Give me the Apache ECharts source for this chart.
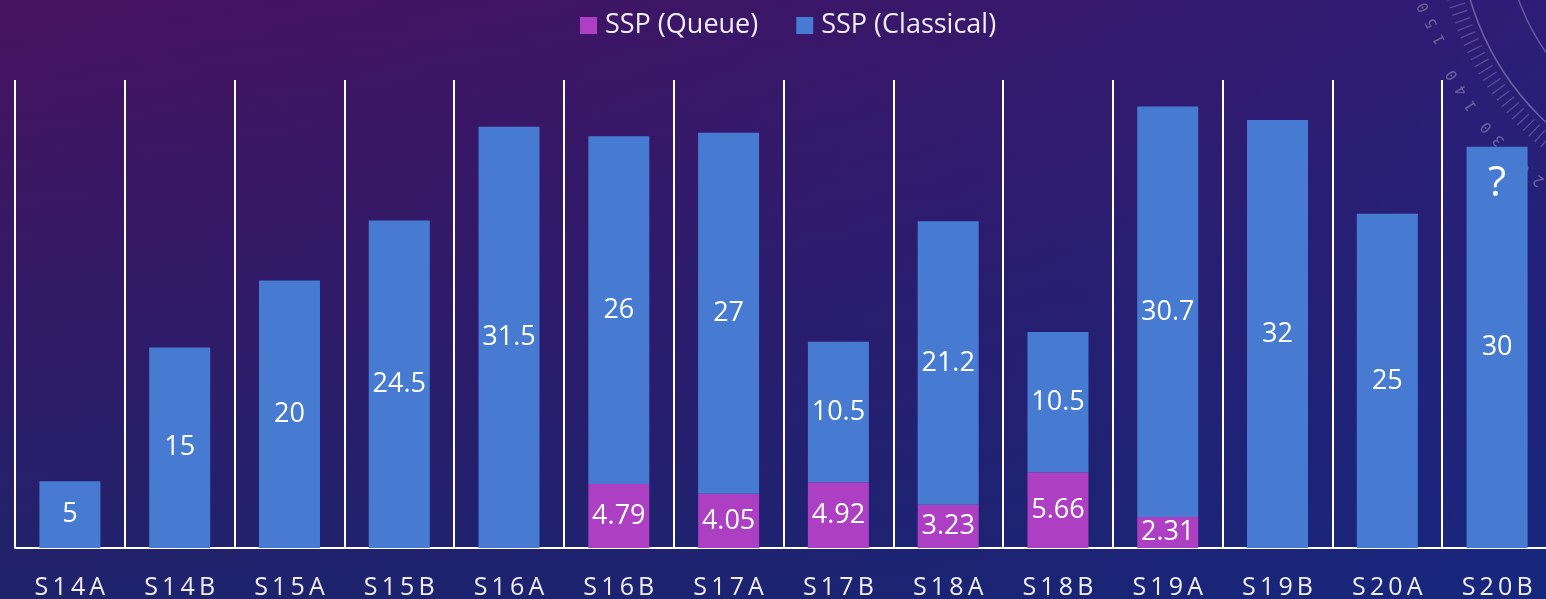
<!DOCTYPE html>
<html>
<head>
<meta charset="utf-8">
<script src="https://cdn.jsdelivr.net/npm/echarts@6/dist/echarts.min.js"></script>
<style>
html,body{margin:0;padding:0;background:#2a1a66;}
#chart{width:1546px;height:599px;}
</style>
</head>
<body>
<div id="chart"></div>
<script>
const categories = ['S14A','S14B','S15A','S15B','S16A','S16B','S17A','S17B','S18A','S18B','S19A','S19B','S20A','S20B'];
const queueValues = [null, null, null, null, null, 4.79, 4.05, 4.92, 3.23, 5.66, 2.31, null, null, null];
const classicalValues = [5, 15, 20, 24.5, 31.5, 26, 27, 10.5, 21.2, 10.5, 30.7, 32, 25, 30];
const seriesNames = ['SSP (Queue)', 'SSP (Classical)'];
const dialNumbers = ['150', '140', '130', '120'];
const unknownMark = { category: 'S20B', value: 30, text: '?' };

const FONT = '"Open Sans", "Noto Sans", sans-serif';
const chart = echarts.init(document.getElementById('chart'), null, { renderer: 'canvas' });

// decorative dial (top right)
const cx = 1733, cy = -78;
const dialPos = [[1432, 23, 116.6], [1462, 90, 121.5], [1499, 140, 132.8], [1539, 180, 141.9]];
const dialGraphics = [
  { type: 'rect', z: -10, silent: true, shape: { x: 0, y: 0, width: 1546, height: 599 },
    style: { fill: new echarts.graphic.LinearGradient(0, 0, 1, 0, [
      { offset: 0, color: 'rgba(20,30,120,0)' },
      { offset: 1, color: 'rgba(10,45,150,0.42)' }]) } },
  { type: 'circle', z: -5, silent: true, shape: { cx: cx, cy: cy, r: 274 },
    style: { fill: 'none', stroke: 'rgba(200,200,230,0.4)', lineWidth: 1.5 } },
  { type: 'circle', z: -5, silent: true, shape: { cx: cx, cy: cy, r: 228 },
    style: { fill: 'none', stroke: 'rgba(200,200,230,0.35)', lineWidth: 1.5 } },
  { type: 'circle', z: -5, silent: true, shape: { cx: cx, cy: cy, r: 288 },
    style: { fill: 'none', stroke: 'rgba(200,200,230,0.28)', lineWidth: 16, lineDash: [1.3, 6.5] } }
];
dialNumbers.forEach((t, i) => {
  const p = dialPos[i];
  dialGraphics.push({
    type: 'text', z: -5, silent: true, x: p[0], y: p[1], rotation: p[2] * Math.PI / 180,
    style: { text: t.split('').join('\u2009'), fill: 'rgba(200,200,230,0.4)', font: '15px "DejaVu Sans Mono", monospace',
      align: 'center', verticalAlign: 'middle' }
  });
});

const option = {
  backgroundColor: new echarts.graphic.LinearGradient(0, 0, 0, 1, [
    { offset: 0, color: '#47125f' },
    { offset: 0.5, color: '#321a66' },
    { offset: 1, color: '#1f236c' }
  ]),
  animation: false,
  graphic: dialGraphics,
  legend: {
    left: 575, top: 7,
    itemWidth: 17, itemHeight: 17, itemGap: 38,
    icon: 'rect',
    data: seriesNames,
    textStyle: { color: '#eeeef4', fontSize: 27, fontFamily: FONT, padding: [0, 0, 0, 3] }
  },
  grid: { left: 15, width: 1537, top: 80, bottom: 51, containLabel: false, outerBoundsMode: 'none' },
  xAxis: {
    type: 'category',
    data: categories,
    boundaryGap: true,
    axisLine: { show: true, lineStyle: { color: '#ffffff', width: 2 } },
    axisTick: { show: false },
    splitLine: { show: true, interval: 0, lineStyle: { color: '#ffffff', width: 2 } },
    axisLabel: {
      interval: 0, margin: 27, color: '#eeeef4', fontSize: 25, fontFamily: FONT,
      formatter: v => v.split('').join('\u2009')
    }
  },
  yAxis: { type: 'value', min: 0, max: 35, show: false, splitLine: { show: false } },
  series: [
    {
      name: seriesNames[0], type: 'bar', stack: 'total', data: queueValues,
      barWidth: 61,
      itemStyle: { color: '#ac3fc2' },
      label: { show: true, position: 'inside', color: '#ffffff', fontSize: 27, fontFamily: FONT,
        formatter: p => (p.value == null ? '' : String(p.value)) }
    },
    {
      name: seriesNames[1], type: 'bar', stack: 'total', data: classicalValues,
      barWidth: 61,
      itemStyle: { color: '#477bd2' },
      label: { show: true, position: 'inside', color: '#ffffff', fontSize: 27, fontFamily: FONT,
        formatter: p => String(p.value) },
      markPoint: {
        symbol: 'rect', symbolSize: 1,
        itemStyle: { color: 'rgba(0,0,0,0)' },
        label: { show: true, position: 'inside', offset: [0, 37], color: '#ffffff', fontSize: 42, fontFamily: FONT,
          formatter: () => unknownMark.text },
        data: [{ coord: [unknownMark.category, unknownMark.value] }]
      }
    }
  ]
};
chart.setOption(option);
</script>
</body>
</html>
